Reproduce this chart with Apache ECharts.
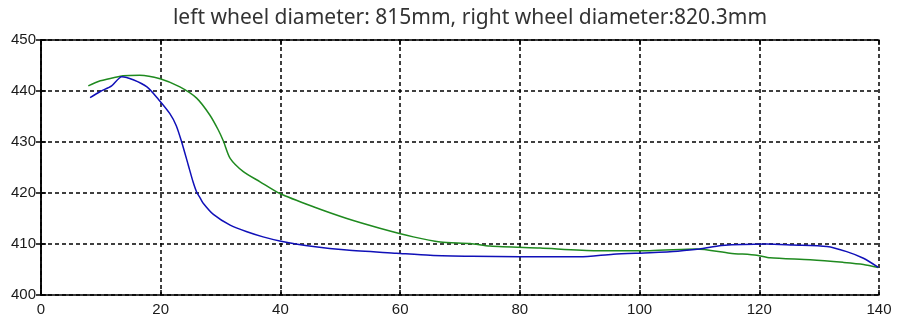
<!DOCTYPE html>
<html>
<head>
<meta charset="utf-8">
<script src="https://cdn.jsdelivr.net/npm/echarts@6/dist/echarts.min.js"></script>
<style>html,body{margin:0;padding:0;background:#fff}#c{width:901px;height:320px}</style>
</head>
<body>
<div id="c"></div>
<script>
var titleText = "left wheel diameter: 815mm, right wheel diameter:820.3mm";
var xTicks = [0, 20, 40, 60, 80, 100, 120, 140];
var yTicks = [400, 410, 420, 430, 440, 450];

var blueX = [8.2, 9.9, 11.8, 13.5, 15.4, 17.7, 19.6, 21.5, 22.6, 23.5, 24.6, 25.4, 26.0, 26.6, 27.1, 28.8, 31.6, 34.4, 37.1, 39.9, 45.5, 51.1, 59.4, 65, 72, 80, 90, 95.6, 101.7, 106.4, 110, 113.7, 121.2, 125.6, 131.3, 134.6, 137.4, 139.9];
var blueY = [438.7, 439.9, 441.0, 442.8, 442.2, 440.8, 438.4, 435.6, 433.2, 430.0, 425.5, 422.2, 420.2, 419.0, 418.0, 415.8, 413.7, 412.4, 411.4, 410.6, 409.5, 408.8, 408.2, 407.8, 407.6, 407.5, 407.5, 408.0, 408.3, 408.6, 409.0, 409.7, 410.0, 409.8, 409.5, 408.5, 407.2, 405.4];

var greenX = [7.9, 9.9, 12.1, 13.7, 16.5, 19.9, 23.2, 26.0, 28.2, 29.6, 30.5, 31.6, 33.8, 36.6, 39.9, 45.5, 51.1, 56.6, 62.2, 66.7, 71.7, 75, 83.4, 92.8, 101.7, 109.5, 115.1, 119.6, 121.8, 128.5, 134, 137.4, 139.9];
var greenY = [441.0, 442.0, 442.6, 443.0, 443.1, 442.4, 440.8, 438.6, 435.3, 432.4, 430.1, 426.8, 424.2, 422.2, 419.9, 417.3, 415.0, 413.1, 411.4, 410.4, 410.1, 409.6, 409.2, 408.7, 408.7, 409.0, 408.2, 407.8, 407.3, 406.9, 406.4, 406.0, 405.4];

function pairs(xs, ys) { return xs.map(function (x, i) { return [x, ys[i]]; }); }

var chart = echarts.init(document.getElementById('c'), null, {renderer: 'canvas'});
var axisLine = {show: true, lineStyle: {color: '#000', width: 1.5}};
var tickIn = {show: true, inside: true, length: 5, lineStyle: {color: '#000', width: 1.5}};
var gridDash = {show: true, lineStyle: {color: '#000', width: 1.5, type: [4, 3]}};
var lbl = {color: '#1a1a1a', fontFamily: 'Liberation Sans', fontSize: 15};

chart.setOption({
  animation: false,
  title: {
    text: titleText, left: 465, top: 3, textAlign: 'center',
    textStyle: {fontFamily: 'Noto Sans', fontSize: 21, fontWeight: 'normal', color: '#333'}
  },
  grid: {left: 41, right: 22, top: 40, bottom: 25},
  xAxis: [
    {type: 'value', min: xTicks[0], max: xTicks[xTicks.length - 1], interval: 20, position: 'bottom',
     axisLine: axisLine, axisTick: tickIn, splitLine: gridDash,
     axisLabel: Object.assign({margin: 7}, lbl)},
    {type: 'value', min: xTicks[0], max: xTicks[xTicks.length - 1], interval: 20, position: 'top',
     axisLine: axisLine, axisTick: tickIn, splitLine: {show: false}, axisLabel: {show: false}}
  ],
  yAxis: [
    {type: 'value', min: yTicks[0], max: yTicks[yTicks.length - 1], interval: 10, position: 'left',
     axisLine: axisLine, axisTick: tickIn, splitLine: gridDash,
     axisLabel: Object.assign({margin: 5}, lbl)},
    {type: 'value', min: yTicks[0], max: yTicks[yTicks.length - 1], interval: 10, position: 'right',
     axisLine: axisLine, axisTick: tickIn, splitLine: {show: false}, axisLabel: {show: false}}
  ],
  series: [
    {type: 'line', data: pairs(greenX, greenY), showSymbol: false, smooth: 0.25,
     lineStyle: {color: '#1f8a1f', width: 1.5}, z: 3},
    {type: 'line', data: pairs(blueX, blueY), showSymbol: false, smooth: 0.25,
     lineStyle: {color: '#1010b8', width: 1.5}, z: 4}
  ]
});
</script>
</body>
</html>
